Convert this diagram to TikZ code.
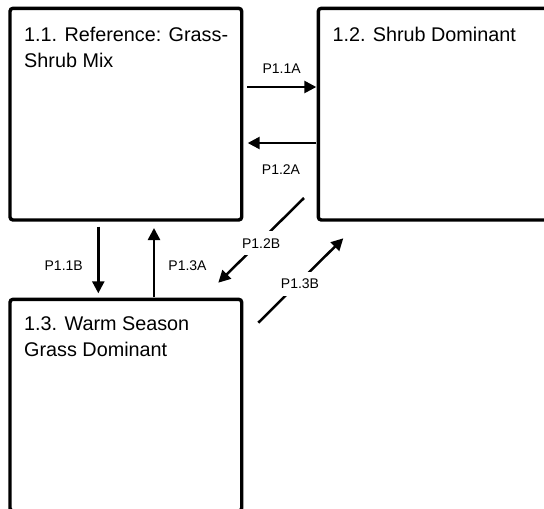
\documentclass[tikz,border=0pt]{standalone}
\usepackage{fontspec}
\setmainfont{Liberation Sans}
\usetikzlibrary{arrows.meta,positioning}

\begin{document}
\begin{tikzpicture}[x=1pt,y=-1pt,
  st/.style={draw,line width=3.4pt,rounded corners=3pt,outer sep=0pt,
             minimum width=231.7pt,minimum height=211.7pt},
  tx/.style={anchor=north west,inner sep=0pt,align=left,
             font=\fontsize{19.8}{26}\selectfont},
  lb/.style={font=\fontsize{14}{16}\selectfont,inner sep=1pt},
  ar/.style={-{Triangle[length=12pt,width=12pt]},line width=2.5pt}]
\path[use as bounding box,clip] (0,0) rectangle (544,509);
% states
\node[st,anchor=north west] (ref) at (10,8.3) {};
\node[st,right=76.6pt of ref] (shrub) {};
\node[st,below=79.3pt of ref] (warm) {};
\node[tx] (reftx) at ([shift={(14,18.5)}]ref.north west) {1.1. Reference: Grass-\\Shrub Mix};
\node[tx] (shrubtx) at ([shift={(14,18.5)}]shrub.north west) {1.2. Shrub Dominant};
\node[tx] (warmtx) at ([shift={(14,17.5)}]warm.north west) {1.3. Warm Season\\Grass Dominant};
% pathways
\draw[ar] ([shift={(5.3,78.7)}]ref.north east) -- node[lb,midway,shift={(0,-18.7)}] (p11a) {P1.1A} ([shift={(-2,78.7)}]shrub.north west);
\draw[ar] ([shift={(-2,134.7)}]shrub.north west) -- node[lb,midway,shift={(-1,27)}] (p12a) {P1.2A} ([shift={(6,134.7)}]ref.north east);
\draw[ar] ([shift={(88.3,6.7)}]ref.south west) -- node[lb,midway,shift={(-34.6,5.7)}] (p11b) {P1.1B} ([shift={(88.3,-6)}]warm.north west);
\draw[ar] ([shift={(144,-2)}]warm.north west) -- node[lb,midway,shift={(33.5,3.1)}] (p13a) {P1.3A} ([shift={(144,8)}]ref.south west);
\draw[ar] ([shift={(-14.3,-22)}]shrub.south west) -- node[lb,midway,fill=white,inner ysep=7pt,shift={(0,3)}] (p12b) {P1.2B} ([shift={(-23.4,-16.6)}]warm.north east);
\draw[ar] ([shift={(16.6,23.4)}]warm.north east) -- node[lb,midway,fill=white,inner ysep=7pt,shift={(-0.8,3.5)}] (p13b) {P1.3B} ([shift={(25,18.3)}]shrub.south west);
\end{tikzpicture}
\end{document}
